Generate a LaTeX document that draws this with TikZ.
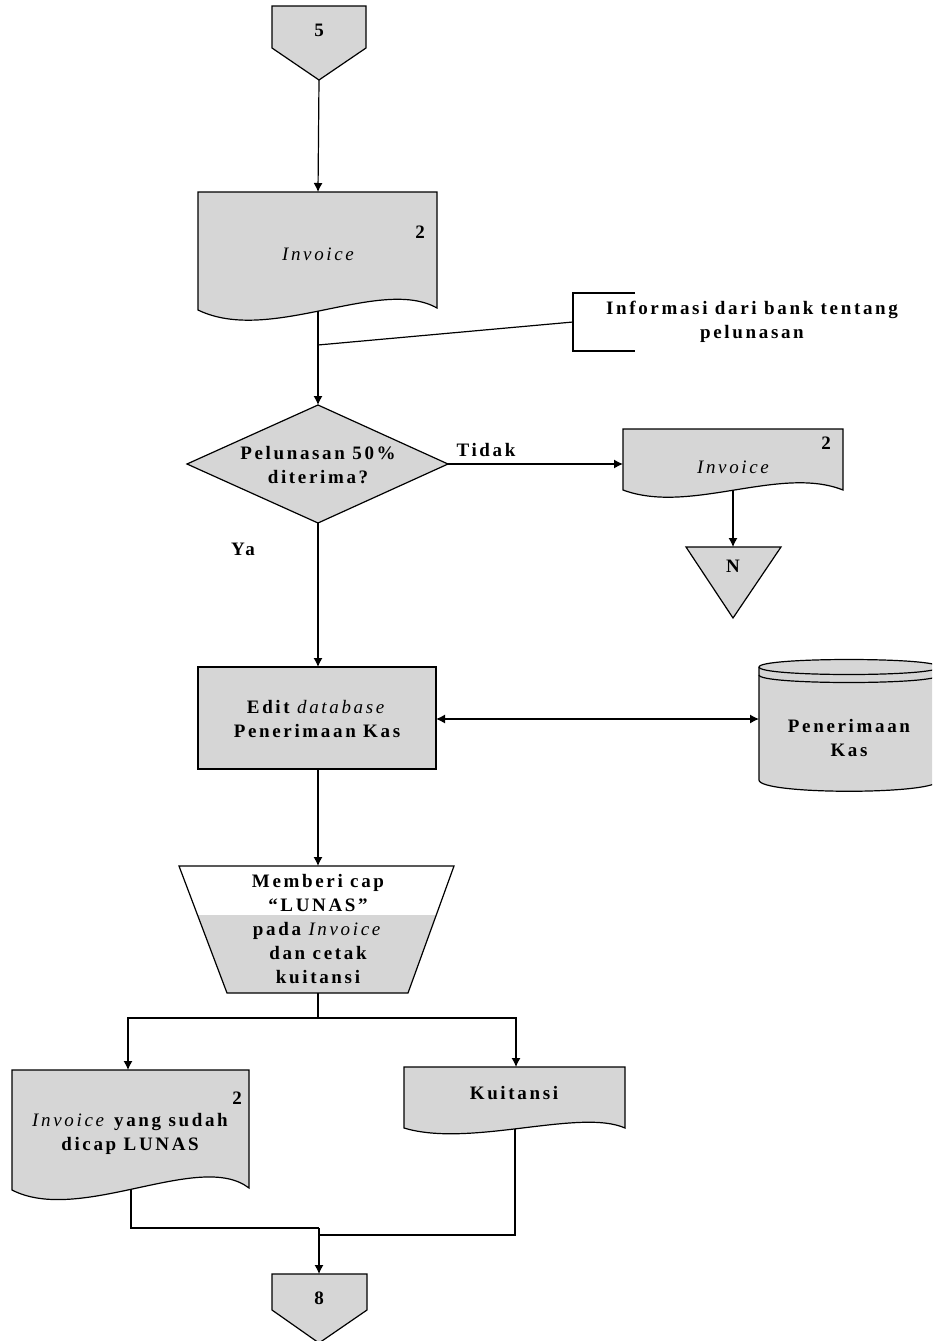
\documentclass[tikz,border=0pt]{standalone}
\usepackage{fontspec}
\setmainfont{Liberation Serif}[LetterSpace=14]
\usetikzlibrary{arrows.meta,calc}
\begin{document}
\begin{tikzpicture}[x=1pt,y=-1pt,line width=1.2pt,
  shade/.style={fill=gray!32},
  txt/.style={font=\fontsize{19}{24}\selectfont\bfseries,align=center,inner sep=0pt},
  itx/.style={font=\fontsize{19}{24}\selectfont\mdseries\itshape,align=center,inner sep=0pt},
  arr/.style={-{Latex[length=9pt,width=9pt]}},
  darr/.style={{Latex[length=9pt,width=9pt]}-{Latex[length=9pt,width=9pt]}}]
\useasboundingbox (0,0) rectangle (932,1341);
\clip (0,0) rectangle (932,1341);

% connector 5
\draw[shade] (272,6) -- (366,6) -- (366,48) -- (319,80) -- (272,48) -- cycle;
\node[txt] (c5) at (319,30) {5};
\coordinate (c5b) at (319,80);

% Invoice 1
\draw[shade] (198,192) -- (437,192) -- (437,308) .. controls (380,276) and (270,345) .. (198,310) -- cycle;
\node[itx] (inv1) at (318,254) {Invoice};
\node[txt] (inv1n) at (420,232) {2};
\coordinate (inv1t) at (318,192);
\coordinate (inv1b) at (318,311);

% annotation
\draw (635,293) -- (573,293) -- (573,351) -- (635,351);
\coordinate (annl) at (573,322);
\node[txt] (ann) at (752,322) {Informasi dari bank tentang\\pelunasan};
\coordinate (join1) at (318,345);

% decision
\draw[shade] (318,405) -- (448,464) -- (318,523) -- (187,464) -- cycle;
\node[txt] (dec) at (318,465) {Pelunasan 50\%\\diterima?};
\coordinate (dect) at (318,405);
\coordinate (decr) at (448,464);
\coordinate (decb) at (318,523);
\node[txt] (tidak) at (486,450) {Tidak};
\node[txt] (ya) at (243,549) {Ya};

% Invoice 2
\draw[shade] (623,429) -- (843,429) -- (843,490) .. controls (780,465) and (690,515) .. (623,490) -- cycle;
\node[itx] (inv2) at (733,467) {Invoice};
\node[txt] (inv2n) at (826,443) {2};
\coordinate (inv2l) at (623,464);
\coordinate (inv2b) at (733,490);

% triangle N
\draw[shade] (686,547) -- (781,547) -- (733,618) -- cycle;
\node[txt] (nn) at (733,566) {N};
\coordinate (nt) at (733,547);

% rectangle
\draw[shade] (198,667) rectangle (436,769);
\node[txt] (edit) at (317,719) {Edit \textit{\mdseries database}\\Penerimaan Kas};
\coordinate (editt) at (318,667);
\coordinate (editb) at (318,769);
\coordinate (editr) at (436,719);

% cylinder
\draw[shade] (759,667) -- (759,780) .. controls (759,795) and (939,795) .. (939,780) -- (939,667)
  .. controls (939,657) and (759,657) .. (759,667) -- cycle;
\draw (759,667) .. controls (759,677) and (939,677) .. (939,667);
\draw (759,675) .. controls (759,685) and (939,685) .. (939,675);
\node[txt] (db) at (849,738) {Penerimaan\\Kas};
\coordinate (dbl) at (759,719);

% trapezoid
\fill[gray!32] (197.5,915) -- (436.2,915) -- (408,993) -- (227,993) -- cycle;
\draw (179,866) -- (454,866) -- (408,993) -- (227,993) -- cycle;
\node[txt] (cap) at (318,929.5) {Memberi cap\\“LUNAS”\\pada \textit{\mdseries Invoice}\\dan cetak\\kuitansi};
\coordinate (capt) at (318,866);
\coordinate (capb) at (318,993);
\coordinate (split) at (318,1018);

% Invoice lunas
\draw[shade] (12,1070) -- (249,1070) -- (249,1188) .. controls (200,1150) and (80,1225) .. (12,1190) -- cycle;
\node[txt] (inv3) at (130,1134) {\textit{\mdseries Invoice} yang sudah\\dicap LUNAS};
\node[txt] (inv3n) at (237,1098) {2};
\coordinate (inv3t) at (128,1070);
\coordinate (inv3b) at (131,1190);

% Kuitansi
\draw[shade] (404,1067) -- (625,1067) -- (625,1128) .. controls (580,1108) and (470,1148) .. (404,1128) -- cycle;
\node[txt] (kui) at (514,1093) {Kuitansi};
\coordinate (kuit) at (516,1067);
\coordinate (kuib) at (515,1129);

% connector 8
\draw[shade] (272,1274) -- (367,1274) -- (367,1310) -- (319,1343) -- (272,1310) -- cycle;
\node[txt] (c8) at (319,1298) {8};
\coordinate (c8t) at (319,1274);
\coordinate (m8) at (319,1228);
\coordinate (m8r) at (319,1235);

% connectors
\draw[arr] (c5b) -- (inv1t);
\draw[arr] (inv1b) -- (dect);
\draw (annl) -- (join1);
\draw[arr] (decr) -- (inv2l);
\draw[arr] (inv2b) -- (nt);
\draw[arr] (decb) -- (editt);
\draw[darr] (editr) -- (dbl);
\draw[arr] (editb) -- (capt);
\draw (capb) -- (split);
\draw[arr] (split) -| (inv3t);
\draw[arr] (split) -| (kuit);
\draw (inv3b) |- (m8);
\draw (kuib) |- (m8r);
\draw[arr] (m8) -- (c8t);
\end{tikzpicture}
\end{document}
